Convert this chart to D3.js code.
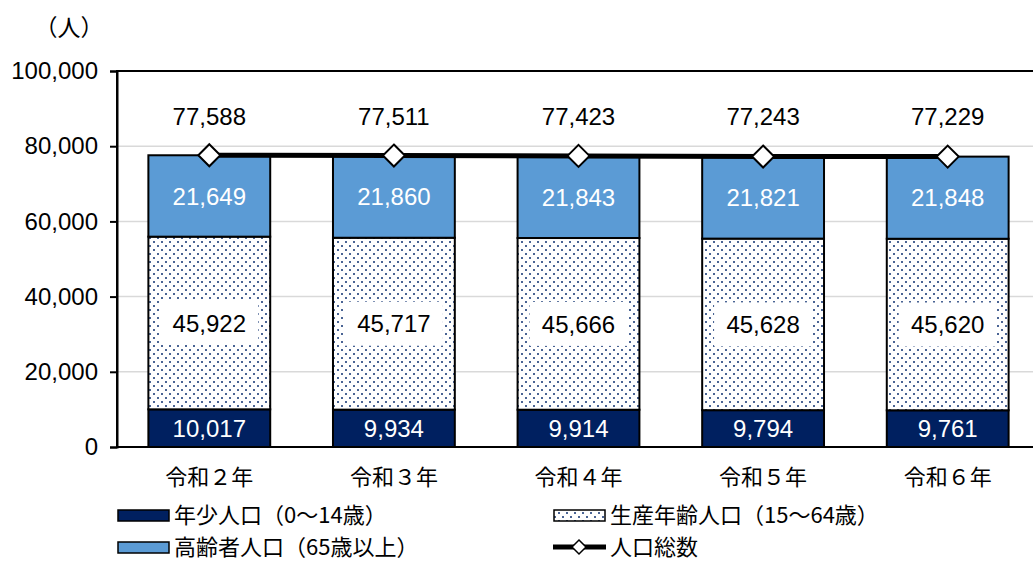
<!DOCTYPE html>
<meta charset="utf-8">
<script src="https://cdn.jsdelivr.net/npm/d3@7"></script>
<style>
body { margin: 0; background: #fff; }
text { font-family: "Liberation Sans", "Noto Sans CJK JP", sans-serif; }
.jp { font-family: "Noto Sans CJK JP", sans-serif; }
</style>
<body>
<script>

// data
var years = ["令和２年", "令和３年", "令和４年", "令和５年", "令和６年"];
var young = [10017, 9934, 9914, 9794, 9761];
var working = [45922, 45717, 45666, 45628, 45620];
var elderly = [21649, 21860, 21843, 21821, 21848];
var totals = [77588, 77511, 77423, 77243, 77229];
var yTicks = [0, 20000, 40000, 60000, 80000, 100000];
var legendLabels = ["年少人口（0～14歳）", "生産年齢人口（15～64歳）", "高齢者人口（65歳以上）", "人口総数"];

var W = 1033, H = 561;
var pLeft = 117, pTop = 71, pRight = 1040, pBottom = 447;

var svg = d3.select("body").append("svg")
    .attr("width", W).attr("height", H);

var defs = svg.append("defs");
var pat = defs.append("pattern").attr("id", "dots")
    .attr("patternUnits", "userSpaceOnUse").attr("width", 8).attr("height", 8);
pat.append("rect").attr("width", 8).attr("height", 8).attr("fill", "#fff");
pat.append("rect").attr("x", 1).attr("y", 1).attr("width", 2).attr("height", 2).attr("fill", "#4a6494");
pat.append("rect").attr("x", 5).attr("y", 5).attr("width", 2).attr("height", 2).attr("fill", "#4a6494");

var x = d3.scaleBand().domain(years).range([pLeft, pRight]).paddingInner(0.34).paddingOuter(0.17);
var y = d3.scaleLinear().domain([0, 100000]).range([pBottom, pTop]);
var fmt = d3.format(",");

// gridlines
svg.append("g").selectAll("line").data(yTicks.slice(1, -1)).enter().append("line")
    .attr("x1", pLeft).attr("x2", pRight)
    .attr("y1", function(d) { return y(d); }).attr("y2", function(d) { return y(d); })
    .attr("stroke", "#d9d9d9").attr("stroke-width", 1.5);

// stacked bars
var series = [
    {vals: young, fill: "#002060", text: "#fff"},
    {vals: working, fill: "url(#dots)", text: "#000", box: true},
    {vals: elderly, fill: "#5b9bd5", text: "#fff"}
];
var base = years.map(function() { return 0; });
series.forEach(function(s) {
    var g = svg.append("g");
    years.forEach(function(yr, i) {
        var y0 = base[i], y1 = base[i] + s.vals[i];
        base[i] = y1;
        g.append("rect")
            .attr("x", x(yr)).attr("width", x.bandwidth())
            .attr("y", y(y1)).attr("height", y(y0) - y(y1))
            .attr("fill", s.fill).attr("stroke", "#000").attr("stroke-width", 2);
        var cy = (y(y0) + y(y1)) / 2;
        if (s.box) {
            g.append("rect").attr("x", x(yr) + x.bandwidth() / 2 - 49).attr("y", cy - 22)
                .attr("width", 98).attr("height", 44).attr("fill", "#fff");
        }
        g.append("text")
            .attr("x", x(yr) + x.bandwidth() / 2).attr("y", cy)
            .attr("dy", "0.36em").attr("text-anchor", "middle")
            .attr("font-size", 24).attr("fill", s.text)
            .text(fmt(s.vals[i]));
    });
});

// plot border
svg.append("rect").attr("x", pLeft).attr("y", pTop)
    .attr("width", pRight - pLeft).attr("height", pBottom - pTop)
    .attr("fill", "none").attr("stroke", "#000").attr("stroke-width", 2);

// y axis
var yAxis = svg.append("g").attr("transform", "translate(" + pLeft + ",0)")
    .call(d3.axisLeft(y).tickValues(yTicks).tickFormat(fmt).tickSize(7).tickPadding(12));
yAxis.select(".domain").attr("stroke-width", 2);
yAxis.selectAll(".tick line").attr("stroke-width", 2);
yAxis.selectAll("text").attr("font-size", 24).attr("fill", "#000")
    .style("font-family", "'Liberation Sans', sans-serif");

// x labels
svg.append("g").selectAll("text").data(years).enter().append("text")
    .attr("class", "jp")
    .attr("x", function(d) { return x(d) + x.bandwidth() / 2; })
    .attr("y", 477).attr("dy", "0.35em").attr("text-anchor", "middle")
    .attr("font-size", 22).text(String);

// total line
var line = d3.line()
    .x(function(d, i) { return x(years[i]) + x.bandwidth() / 2; })
    .y(function(d) { return y(d); });
svg.append("path").datum(totals).attr("d", line)
    .attr("fill", "none").attr("stroke", "#000").attr("stroke-width", 5);
svg.append("g").selectAll("path").data(totals).enter().append("path")
    .attr("d", "M0,-11L11,0L0,11L-11,0Z")
    .attr("transform", function(d, i) { return "translate(" + (x(years[i]) + x.bandwidth() / 2) + "," + y(d) + ")"; })
    .attr("fill", "#fff").attr("stroke", "#000").attr("stroke-width", 2);
svg.append("g").selectAll("text").data(totals).enter().append("text")
    .attr("x", function(d, i) { return x(years[i]) + x.bandwidth() / 2; })
    .attr("y", 116).attr("dy", "0.36em").attr("text-anchor", "middle")
    .attr("font-size", 24).text(fmt);

// unit
svg.append("text").attr("class", "jp").attr("x", 69).attr("y", 28)
    .attr("dy", "0.35em").attr("text-anchor", "middle")
    .attr("font-size", 23).text("（人）");

// legend
var legPos = [[117, 515], [553, 515], [117, 547], [553, 547]];
var legFill = ["#002060", "url(#dots)", "#5b9bd5"];
legendLabels.forEach(function(lab, i) {
    var p = legPos[i];
    var g = svg.append("g").attr("transform", "translate(" + p[0] + "," + p[1] + ")");
    if (i < 3) {
        g.append("rect").attr("x", 1).attr("y", -5).attr("width", 51).attr("height", 11)
            .attr("fill", legFill[i]).attr("stroke", "#000").attr("stroke-width", 1.5);
    } else {
        g.append("line").attr("x1", 0).attr("x2", 53).attr("y1", 0).attr("y2", 0)
            .attr("stroke", "#000").attr("stroke-width", 5);
        g.append("path").attr("d", "M26,-7L33,0L26,7L19,0Z")
            .attr("fill", "#fff").attr("stroke", "#000").attr("stroke-width", 1.5);
    }
    g.append("text").attr("class", "jp").attr("x", 57).attr("dy", "0.35em")
        .attr("font-size", 22).text(lab);
});

</script>
</body>
</html>
